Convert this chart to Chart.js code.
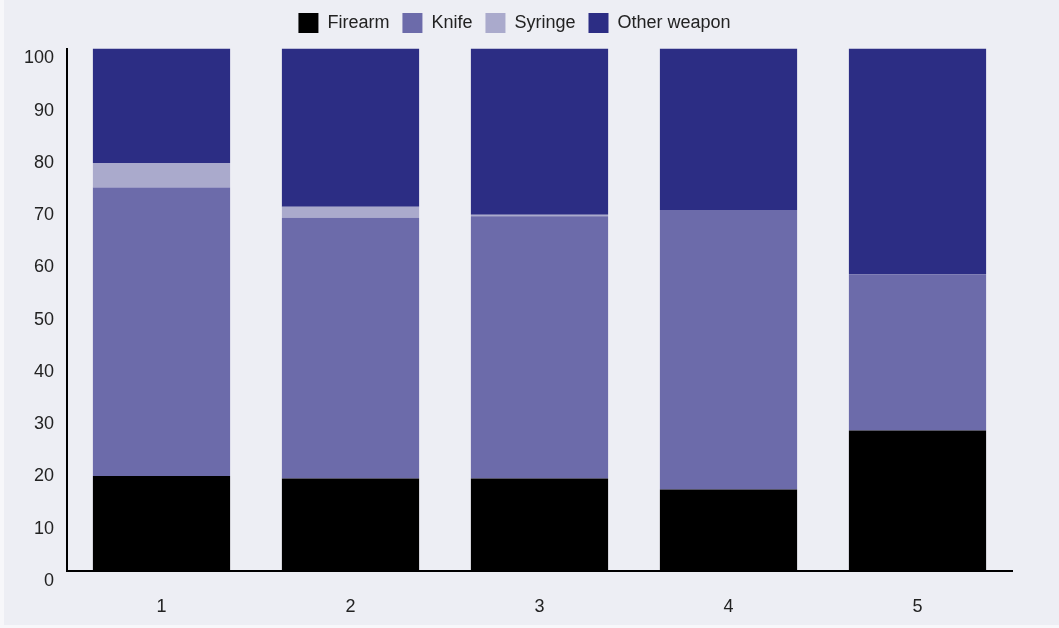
<!DOCTYPE html>
<html>
<head>
<meta charset="utf-8">
<script src="https://cdn.jsdelivr.net/npm/chart.js@4.4.1/dist/chart.umd.min.js"></script>
<style>
  html, body { margin: 0; padding: 0; background: #f7f7fa; }
  #wrap { position: absolute; left: 4px; top: 0; width: 1055px; height: 625px; background: #edeef4; }
  canvas { position: absolute; left: -4px; top: 0; }
</style>
</head>
<body>
<div id="wrap"><canvas id="chart" width="1059" height="628"></canvas></div>
<script>
const categories = ["1", "2", "3", "4", "5"]

const firearm = [18.2, 17.7, 17.7, 15.6, 26.9]
const knife = [55.2, 49.9, 50.2, 53.5, 29.9]
const syringe = [4.7, 2.1, 0.3, 0, 0]
const otherWeapon = [21.9, 30.3, 31.8, 30.9, 43.2]

const seriesNames = ["Firearm", "Knife", "Syringe", "Other weapon"]
const seriesColors = ["#000000", "#6c6baa", "#aaaacc", "#2c2d84"]

const yTicks = [0, 10, 20, 30, 40, 50, 60, 70, 80, 90, 100]

const fontFamily = "'Liberation Sans Narrow', 'Arial Narrow', 'Liberation Sans', sans-serif"

// a bit more room under the legend than chart.js gives by default
const legendGap = {
    id: "legendGap",
    beforeLayout(chart) {
        const legend = chart.legend
        if (legend && !legend._gapPatched) {
            const fit = legend.fit
            legend.fit = function () {
                fit.call(this)
                this.height += 5.5
            }
            legend._gapPatched = true
        }
    }
}

const ctx = document.getElementById("chart").getContext("2d")

const chart = new Chart(ctx, {
    type: "bar",
    data: {
        labels: categories,
        datasets: [firearm, knife, syringe, otherWeapon].map((values, i) => ({
            label: seriesNames[i],
            data: values,
            backgroundColor: seriesColors[i],
            borderWidth: 0,
            barPercentage: 0.726,
            categoryPercentage: 1
        }))
    },
    options: {
        responsive: false,
        animation: false,
        layout: { padding: { left: 17, right: 47, top: 0, bottom: 0 } },
        plugins: {
            legend: {
                position: "top",
                labels: {
                    boxWidth: 20,
                    boxHeight: 20,
                    padding: 13,
                    color: "#222",
                    font: { family: fontFamily, size: 18 }
                }
            },
            tooltip: { enabled: false }
        },
        scales: {
            x: {
                stacked: true,
                grid: { display: false, drawTicks: false },
                border: { display: true, color: "#000", width: 2 },
                ticks: { color: "#222", padding: 25, font: { family: fontFamily, size: 18 } },
                afterFit: s => { s.height = 57 }
            },
            y: {
                stacked: true,
                min: 0,
                max: 100,
                grid: { display: false, drawTicks: false },
                border: { display: true, color: "#000", width: 2 },
                afterBuildTicks: s => { s.ticks = yTicks.map(v => ({ value: v })) },
                ticks: { color: "#222", padding: 13, labelOffset: 10, font: { family: fontFamily, size: 18 } },
                afterFit: s => { s.width = 50 }
            }
        }
    },
    plugins: [legendGap]
})
</script>
</body>
</html>
